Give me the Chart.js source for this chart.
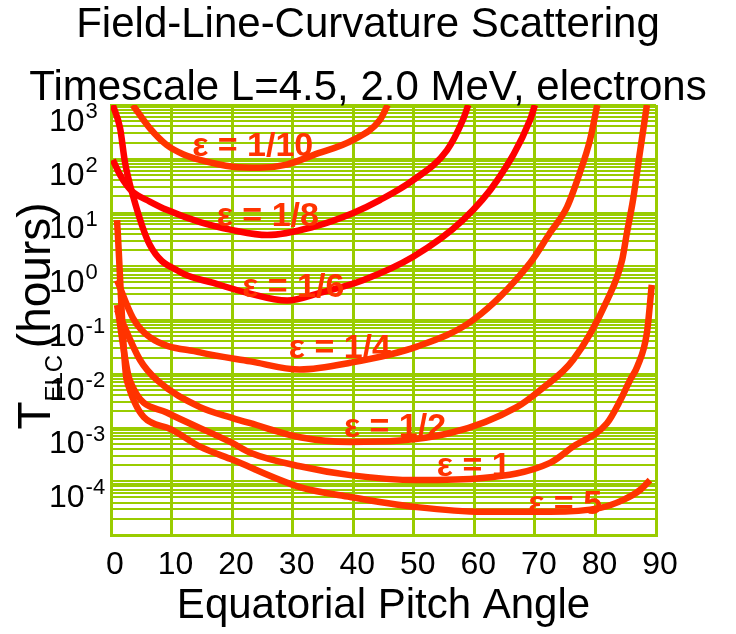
<!DOCTYPE html>
<html lang="en">
<head>
  <meta charset="UTF-8">
  <title>Field-Line-Curvature Scattering Timescale</title>
  <style>
    html, body { margin: 0; padding: 0; background: #fff; }
    #wrap { width: 736px; height: 634px; }
  </style>
</head>
<body>
  <div id="wrap"><canvas id="chart" width="736" height="634"></canvas></div>

  <script src="https://cdn.jsdelivr.net/npm/chart.js"></script>
  <script>
    const titleLines = ['Field-Line-Curvature Scattering', 'Timescale L=4.5, 2.0 MeV, electrons'];
    const xTitle = 'Equatorial Pitch Angle';
    const xTicks = [0, 10, 20, 30, 40, 50, 60, 70, 80, 90];
    const yTickExps = [3, 2, 1, 0, -1, -2, -3, -4];

    // pitch angle (deg) and timescale (hours)
    const angleE10 = [3.6, 6.4, 9.2, 12.0, 14.7, 20.1, 24.6, 29.0, 33.4, 40.0, 44.4, 45.7];
    const timeE10  = [1000, 370, 180, 120, 95, 71, 68, 78, 117, 224, 525, 1000];

    const angleE8 = [0.3, 1.5, 2.6, 3.6, 6.4, 9.2, 14.7, 20.1, 25.8, 33.4, 40.0, 44.4, 49.9, 55.5, 58.1, 59.0];
    const timeE8  = [95, 50, 32, 24, 16, 11.2, 6.6, 4.7, 3.8, 5.4, 9.8, 17, 40, 145, 525, 1000];

    const angleE6 = [0.3, 1.5, 2.3, 3.6, 6.4, 11.4, 16.9, 22.5, 29.1, 34.5, 41.6, 49.9, 58.1, 63.8, 69.2, 70.0];
    const timeE6  = [1000, 370, 87, 21, 2.5, 0.78, 0.49, 0.32, 0.23, 0.32, 0.55, 1.5, 7.2, 40, 525, 1000];

    const angleE4 = [1.0, 3.6, 6.4, 14.7, 23.0, 31.2, 39.5, 50.5, 59.8, 69.2, 72.5, 75.3, 77.4, 79.1, 80.3];
    const timeE4  = [0.55, 0.11, 0.048, 0.025, 0.017, 0.012, 0.016, 0.032, 0.1, 1.15, 4.2, 12.6, 54, 224, 1000];

    const angleE2 = [1.0, 4.8, 7.6, 14.7, 20.1, 23.0, 31.2, 39.5, 56.0, 67.0, 70.9, 76.3, 81.9, 84.4, 85.2, 86.2, 87.4, 88.5];
    const timeE2  = [0.155, 0.018, 0.0076, 0.0024, 0.0015, 0.0012, 0.00066, 0.00054, 0.00079, 0.0024, 0.005, 0.018, 0.23, 1.3, 4.2, 17, 145, 1000];

    const angleE1 = [1.0, 3.1, 9.2, 20.1, 23.0, 31.2, 39.5, 50.5, 61.4, 72.5, 76.3, 81.9, 84.1, 85.7, 86.9, 88.5, 89.3];
    const timeE1  = [0.19, 0.0076, 0.0019, 0.00051, 0.00034, 0.00019, 0.00013, 0.000105, 0.000115, 0.00022, 0.00044, 0.0012, 0.0032, 0.0076, 0.0135, 0.058, 0.45];

    const angleE5 = [1.0, 2.6, 9.2, 14.7, 20.1, 31.2, 39.5, 50.5, 61.4, 72.5, 80.8, 84.6, 87.4, 89.0];
    const timeE5  = [7.2, 0.0076, 0.001, 0.00044, 0.00025, 0.000078, 0.000051, 0.000033, 0.000027, 0.000027, 0.000032, 0.000045, 0.000069, 0.000105];

    const curveNames  = ['1/10', '1/8', '1/6', '1/4', '1/2', '1', '5'];
    const curveAngles = [angleE10, angleE8, angleE6, angleE4, angleE2, angleE1, angleE5];
    const curveTimes  = [timeE10, timeE8, timeE6, timeE4, timeE2, timeE1, timeE5];
    const curveColors = ['#ff3300', '#ff0000', '#ff0000', '#ff3300', '#ff3300', '#ff3300', '#ff3300'];

    // where the "ε = ..." tags sit (angle, hours)
    const tagAngles = [23.4, 25.9, 30.1, 37.8, 46.9, 59.9, 75.0];
    const tagTimes  = [166, 8.3, 0.40, 0.029, 0.00098, 0.000186, 0.000036];

    const FONT = 'Arial, "Liberation Sans", sans-serif';
    const GRID = '#99cc00';
    Chart.defaults.font.family = FONT;

    const datasets = curveNames.map((name, i) => ({
      label: 'ε = ' + name,
      data: curveAngles[i].map((a, j) => ({ x: a, y: curveTimes[i][j] })),
      borderColor: curveColors[i],
      borderWidth: 6.5,
      pointRadius: 0,
      fill: false,
      cubicInterpolationMode: 'monotone',
      clip: 0
    }));

    const extras = {
      id: 'extras',
      afterDatasetsDraw(chart) {
        const ctx = chart.ctx;
        const xs = chart.scales.x, ys = chart.scales.y;
        ctx.save();
        ctx.font = 'bold 34px ' + FONT;
        ctx.fillStyle = '#ff3300';
        ctx.textAlign = 'center';
        ctx.textBaseline = 'middle';
        curveNames.forEach((name, i) => {
          ctx.fillText('ε = ' + name, xs.getPixelForValue(tagAngles[i]), ys.getPixelForValue(tagTimes[i]));
        });
        ctx.restore();
      },
      afterDraw(chart) {
        const ctx = chart.ctx;
        const ys = chart.scales.y;
        const area = chart.chartArea;
        ctx.save();
        ctx.fillStyle = '#000';

        // title
        ctx.font = '42px ' + FONT;
        ctx.textAlign = 'center';
        ctx.textBaseline = 'alphabetic';
        ctx.fillText(titleLines[0], chart.width / 2, 37);
        ctx.fillText(titleLines[1], chart.width / 2, 100);

        // y tick labels 10^n (drawn a bit below their gridline, like the original)
        ctx.textAlign = 'left';
        ctx.textBaseline = 'middle';
        yTickExps.forEach(e => {
          const y = ys.getPixelForValue(Math.pow(10, e)) + 17;
          ctx.font = '32px ' + FONT;
          ctx.fillText('10', 49, y);
          const w = ctx.measureText('10').width;
          ctx.font = '22px ' + FONT;
          ctx.fillText(String(e), 49 + w + 1, y - 10);
        });

        // y axis title: T_ELC (hours)
        ctx.textBaseline = 'alphabetic';
        const big = '46px ' + FONT, small = '24px ' + FONT;
        ctx.font = big; const wT = ctx.measureText('T').width; const wH = ctx.measureText('(hours)').width;
        ctx.font = small; const wS = ctx.measureText('ELC').width; const wSp = ctx.measureText(' ').width;
        const total = wT + wS + wSp + wH;
        const cy = (area.top + area.bottom) / 2 - 4;
        ctx.translate(50, cy + total / 2);
        ctx.rotate(-Math.PI / 2);
        let x = 0;
        ctx.font = big; ctx.fillText('T', x, 0); x += wT;
        ctx.font = small; ctx.fillText('ELC', x, 12); x += wS + wSp;
        ctx.font = big; ctx.fillText('(hours)', x, 0);
        ctx.restore();
      }
    };

    new Chart(document.getElementById('chart'), {
      type: 'line',
      data: { datasets },
      options: {
        responsive: false,
        animation: false,
        layout: { padding: { top: 105, right: 80, bottom: 0, left: 0 } },
        plugins: { legend: { display: false }, tooltip: { enabled: false } },
        scales: {
          x: {
            type: 'linear',
            min: 0,
            max: 90,
            afterFit(scale) { scale.height = 99; },
            afterBuildTicks(scale) { scale.ticks = xTicks.map(v => ({ value: v })); },
            grid: { color: GRID, lineWidth: 3, drawTicks: false },
            border: { display: true, color: GRID, width: 3 },
            ticks: { color: '#000', font: { size: 32 }, padding: 11, labelOffset: 4, maxRotation: 0, autoSkip: false },
            title: { display: true, text: xTitle, color: '#000', font: { size: 42 }, padding: { top: 0, bottom: 2 } }
          },
          y: {
            type: 'logarithmic',
            min: 1e-5,
            max: 1e3,
            afterFit(scale) { scale.width = 111; },
            afterBuildTicks(scale) {
              const ticks = [];
              for (let e = -5; e < 3; e++) {
                for (let m = 1; m < 10; m++) ticks.push({ value: m * Math.pow(10, e) });
              }
              ticks.push({ value: 1000 });
              scale.ticks = ticks;
            },
            grid: { color: GRID, lineWidth: 2, drawTicks: false },
            border: { display: true, color: GRID, width: 3 },
            ticks: { display: false }
          }
        }
      },
      plugins: [extras]
    });
  </script>
</body>
</html>
